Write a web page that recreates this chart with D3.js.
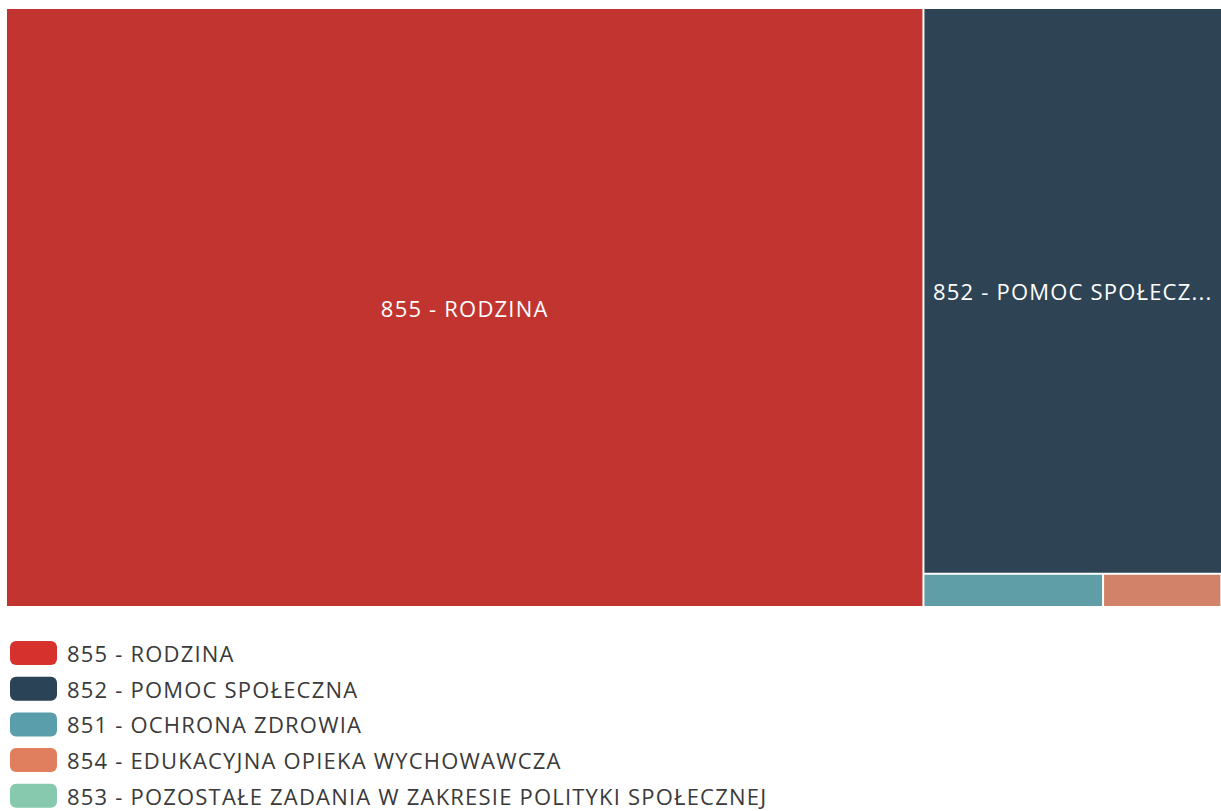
<!DOCTYPE html>
<html lang="pl">
<meta charset="utf-8" />
<style>
    body { margin: 0; background: #fff; }
    text { font-family: "Open Sans", "Noto Sans", sans-serif; letter-spacing: 1.2px; }
    .leaf-label { fill: #fff; font-size: 22px; }
    .legend-label { fill: #3a3a3a; font-size: 22px; }
</style>
<body>
<svg width="1221" height="811"></svg>
<script src="https://d3js.org/d3.v7.min.js"></script>
<script>
    // dane
    var names = ["855 - RODZINA", "852 - POMOC SPOŁECZNA", "851 - OCHRONA ZDROWIA",
        "854 - EDUKACYJNA OPIEKA WYCHOWAWCZA", "853 - POZOSTAŁE ZADANIA W ZAKRESIE POLITYKI SPOŁECZNEJ"]
    var values = [7545, 2319, 82, 54, 0.3]
    var tileColors = ["#c1342f", "#2e4454", "#5f9ea7", "#d3826a", "#86c9ae"]
    var swatchColors = ["#d6312d", "#2b4356", "#5a9eac", "#e07f5e", "#86c9ae"]

    var svg = d3.select("svg")

    var rows = names.map((n, i) => ({ name: n, value: values[i], i: i }))

    var root = d3.hierarchy({ children: rows })
        .sum(d => d.value || 0)
        .sort((a, b) => b.value - a.value)

    d3.treemap()
        .size([1214, 597])
        .paddingInner(2)
        .tile(d3.treemapSquarify)(root)

    var g = svg.append("g").attr("transform", "translate(7,9)")

    var leaf = g.selectAll("g.leaf")
        .data(root.leaves())
        .enter()
        .append("g")
        .attr("class", "leaf")

    leaf.append("rect")
        .attr("x", d => d.x0)
        .attr("y", d => d.y0)
        .attr("width", d => Math.max(0, d.x1 - d.x0))
        .attr("height", d => Math.max(0, d.y1 - d.y0))
        .attr("fill", d => tileColors[d.data.i])

    leaf.filter(d => (d.y1 - d.y0) > 40 && (d.x1 - d.x0) > 60)
        .append("text")
        .attr("class", "leaf-label")
        .attr("x", d => (d.x0 + d.x1) / 2)
        .attr("y", d => (d.y0 + d.y1) / 2)
        .attr("text-anchor", "middle")
        .attr("dominant-baseline", "central")
        .text(d => d.data.name)
        .each(function(d) {
            var el = d3.select(this)
            var maxW = (d.x1 - d.x0) - 16
            var txt = d.data.name
            if (this.getComputedTextLength() > maxW) {
                while (txt.length > 1) {
                    txt = txt.slice(0, -1)
                    el.text(txt + "...")
                    if (this.getComputedTextLength() <= maxW) break
                }
            }
        })

    // legenda
    var legend = svg.append("g").attr("transform", "translate(10,641)")
    var item = legend.selectAll("g")
        .data(rows)
        .enter()
        .append("g")
        .attr("transform", (d, i) => "translate(0," + (i * 35.7) + ")")

    item.append("rect")
        .attr("width", 47)
        .attr("height", 24)
        .attr("rx", 6)
        .attr("fill", d => swatchColors[d.i])

    item.append("text")
        .attr("class", "legend-label")
        .attr("x", 57)
        .attr("y", 12)
        .attr("dominant-baseline", "central")
        .text(d => d.name)
</script>
</body>
</html>
